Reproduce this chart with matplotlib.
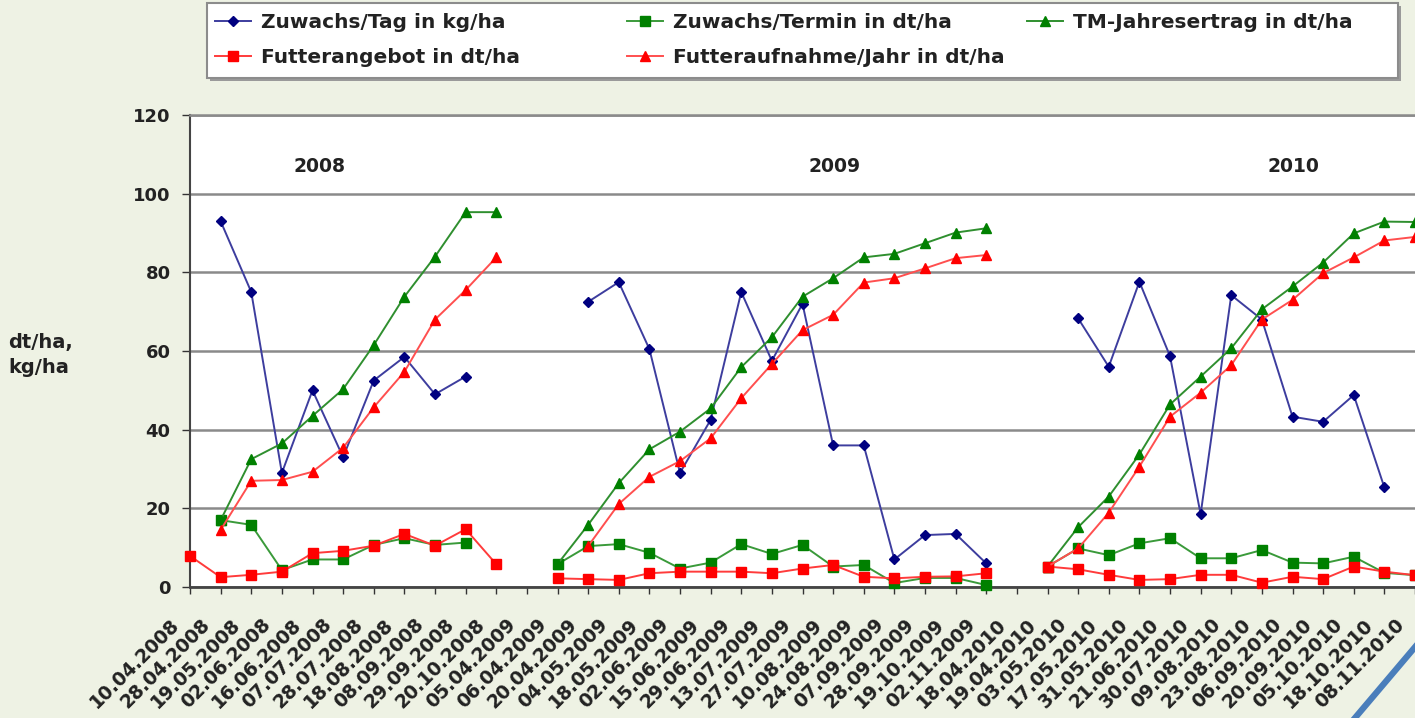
"""
Weidegrasaufwuchs 2008-2010
- Zuwachs, Futterangebot und Futteraufnahme je Termin als Liniendiagramm
- Ergebnis wird als out.png gespeichert
"""

import numpy as np
import matplotlib
matplotlib.use("Agg")
import matplotlib.pyplot as plt
from matplotlib.lines import Line2D
from matplotlib.patches import Rectangle
from matplotlib.transforms import ScaledTranslation

plt.rcParams['font.family'] = ['DejaVu Sans']
plt.rcParams['font.weight'] = 'bold'

nan = np.nan

# =========================
# Daten
# =========================

termine = [
    "10.04.2008", "28.04.2008", "19.05.2008", "02.06.2008", "16.06.2008",
    "07.07.2008", "28.07.2008", "18.08.2008", "08.09.2008", "29.09.2008",
    "20.10.2008", "05.04.2009", "06.04.2009", "20.04.2009", "04.05.2009",
    "18.05.2009", "02.06.2009", "15.06.2009", "29.06.2009", "13.07.2009",
    "27.07.2009", "10.08.2009", "24.08.2009", "07.09.2009", "28.09.2009",
    "19.10.2009", "02.11.2009", "18.04.2010", "19.04.2010", "03.05.2010",
    "17.05.2010", "31.05.2010", "21.06.2010", "30.07.2010", "09.08.2010",
    "23.08.2010", "06.09.2010", "20.09.2010", "05.10.2010", "18.10.2010",
    "08.11.2010",
]

# Zuwachs/Tag in kg/ha
zuwachs_tag = [
    nan, 93, 75, 29, 50, 33, 52.5, 58.5, 49, 53.5,
    nan, nan, nan, 72.5, 77.5, 60.5, 29, 42.5, 75, 57.5,
    72, 36, 36, 7, 13.2, 13.5, 6, nan, nan, 68.3,
    56, 77.6, 58.7, 18.5, 74.2, 68, 43.3, 42, 48.8, 25.3,
    nan,
]

# Zuwachs/Termin in dt/ha
zuwachs_termin = [
    nan, 17, 15.8, 4.3, 7, 7, 10.7, 12.4, 10.7, 11.3,
    nan, nan, 5.8, 10.4, 10.9, 8.7, 4.7, 6.2, 10.9, 8.4,
    10.7, 5.2, 5.6, 1.0, 2.3, 2.3, 0.5, nan, 5.2, 9.8,
    8.1, 11.1, 12.4, 7.3, 7.3, 9.4, 6.2, 6.0, 7.7, 3.6,
    3.0,
]

# TM-Jahresertrag in dt/ha
tm_jahresertrag = [
    nan, 17, 32.5, 36.5, 43.5, 50.3, 61.5, 73.8, 84, 95.3,
    95.3, nan, 5.8, 15.8, 26.4, 35, 39.5, 45.4, 55.9, 63.5,
    73.8, 78.5, 83.8, 84.7, 87.4, 90.1, 91.2, nan, 5.2, 15.2,
    23, 33.7, 46.4, 53.5, 60.7, 70.6, 76.4, 82.5, 89.9, 92.9,
    92.8,
]

# Futterangebot in dt/ha
futterangebot = [
    7.9, 2.5, 3.1, 3.9, 8.6, 9.2, 10.5, 13.5, 10.5, 14.7,
    5.8, nan, 2.2, 2.0, 1.8, 3.5, 3.9, 3.9, 3.9, 3.5,
    4.7, 5.6, 2.6, 2.2, 2.6, 2.7, 3.5, nan, 5.2, 4.5,
    3.1, 1.8, 2.0, 3.1, 3.1, 1.1, 2.6, 2.0, 5.2, 3.9,
    3.0,
]

# Futteraufnahme/Jahr in dt/ha
futteraufnahme = [
    nan, 14.5, 27, 27.2, 29.3, 35.4, 45.7, 54.7, 68, 75.5,
    83.8, nan, nan, 10.4, 21.1, 28, 32, 37.8, 48, 56.7,
    65.3, 69.2, 77.4, 78.5, 81, 83.6, 84.4, nan, 5.2, 9.8,
    18.9, 30.6, 43.3, 49.4, 56.4, 68, 73, 79.8, 83.8, 88.1,
    89,
]

jahre = ["2008", "2009", "2010"]
jahr_pos = [4.24, 21.06, 36.03]


# =========================
# Zeichnen
# =========================

def main():
    W, H = 1415, 718
    fig = plt.figure(figsize=(W / 100, H / 100), dpi=100)
    fig.patch.set_facecolor('#eef2e4')

    ax = fig.add_axes([190 / W, (H - 587) / H, (W - 190) / W, (587 - 115) / H])
    ax.set_facecolor('white')

    x = np.arange(len(termine))

    reihen = [
        # (Daten, Label, Linienfarbe, Marker, Markerfarbe, Markergroesse)
        (zuwachs_tag, "Zuwachs/Tag in kg/ha", '#3d3d9e', 'D', '#000080', 5.5),
        (zuwachs_termin, "Zuwachs/Termin in dt/ha", '#3a9a3a', 's', '#008000', 7),
        (tm_jahresertrag, "TM-Jahresertrag in dt/ha", '#2f8f2f', '^', '#008000', 7),
        (futterangebot, "Futterangebot in dt/ha", '#ff3b3b', 's', '#ff0000', 7),
        (futteraufnahme, "Futteraufnahme/Jahr in dt/ha", '#ff4f4f', '^', '#ff0000', 7),
    ]

    handles = {}
    for z, (werte, label, lfarbe, marker, mfarbe, ms) in enumerate(reihen):
        line, = ax.plot(x, werte, color=lfarbe, lw=1.4, marker=marker,
                        markersize=ms, markerfacecolor=mfarbe,
                        markeredgecolor=mfarbe, zorder=3 + z, clip_on=False,
                        label=label)
        handles[label] = line

    # Achsen
    ax.set_xlim(0, (W - 190) / 30.67)
    ax.set_ylim(0, 120)
    ax.set_yticks(range(0, 121, 20))
    ax.set_xticks(x)
    ax.set_xticklabels(termine, rotation=45, ha='right', va='center',
                       rotation_mode='anchor', fontsize=13.5, fontweight='bold')
    ax.tick_params(axis='x', length=5, width=1, color='#333333', pad=10)
    ax.tick_params(axis='y', length=6, width=1, color='#333333', pad=8,
                   labelsize=13)
    for lab in ax.get_yticklabels():
        lab.set_fontweight('bold')
        lab.set_color('#222222')
    # Datumslabels etwas nach links unten versetzen
    versatz = ScaledTranslation(-0.14, -0.14, fig.dpi_scale_trans)
    for lab in ax.get_xticklabels():
        lab.set_color('#222222')
        lab.set_transform(lab.get_transform() + versatz)

    ax.grid(axis='y', color='#8a8a8a', lw=1.8, zorder=1)
    ax.set_axisbelow(True)
    ax.spines['right'].set_visible(False)
    ax.spines['top'].set_color('#8a8a8a')
    ax.spines['top'].set_linewidth(1.8)
    ax.spines['left'].set_color('#444444')
    ax.spines['left'].set_linewidth(1.5)
    ax.spines['bottom'].set_color('#444444')
    ax.spines['bottom'].set_linewidth(2)

    # Jahreszahlen
    for jahr, pos in zip(jahre, jahr_pos):
        ax.text(pos, 106.8, jahr, ha='center', va='center', fontsize=13.5,
                fontweight='bold', color='#222222')

    fig.text(8 / W, 1 - 355 / H, "dt/ha,\nkg/ha", ha='left', va='center',
             fontsize=14, fontweight='bold', color='#222222', linespacing=1.4)

    # Legendenrahmen mit Schatten
    x0, y0, x1, y1 = 207, 3, 1398, 78
    fig.add_artist(Rectangle(((x0 + 3) / W, 1 - (y1 + 3) / H), (x1 - x0) / W,
                             (y1 - y0) / H, transform=fig.transFigure,
                             facecolor='#9a9a9a', edgecolor='none', zorder=1))
    fig.add_artist(Rectangle((x0 / W, 1 - y1 / H), (x1 - x0) / W,
                             (y1 - y0) / H, transform=fig.transFigure,
                             facecolor='white', edgecolor='#8c8c8c', lw=1.5,
                             zorder=2))

    spalten = [
        (215, ["Zuwachs/Tag in kg/ha", "Futterangebot in dt/ha"]),
        (627, ["Zuwachs/Termin in dt/ha", "Futteraufnahme/Jahr in dt/ha"]),
        (1027, ["TM-Jahresertrag in dt/ha"]),
    ]
    for xpos, labels in spalten:
        leg = fig.legend([handles[l] for l in labels], labels, loc='upper left',
                         bbox_to_anchor=(xpos / W, 1 - 13 / H), frameon=False,
                         borderpad=0, borderaxespad=0, handlelength=1.8,
                         handletextpad=0.5, labelspacing=0.8,
                         prop={'size': 14.5, 'weight': 'bold'})
        leg.set_zorder(3)
        for t in leg.get_texts():
            t.set_color('#222222')

    # blaue Zierlinie unten rechts
    fig.add_artist(Line2D([1349 / W, 1421 / W], [1 - 725 / H, 1 - 640 / H],
                          transform=fig.transFigure, color='#4a7ebb', lw=4.5))

    fig.savefig("out.png", dpi=100, facecolor=fig.get_facecolor())
    plt.close(fig)


if __name__ == "__main__":
    main()
